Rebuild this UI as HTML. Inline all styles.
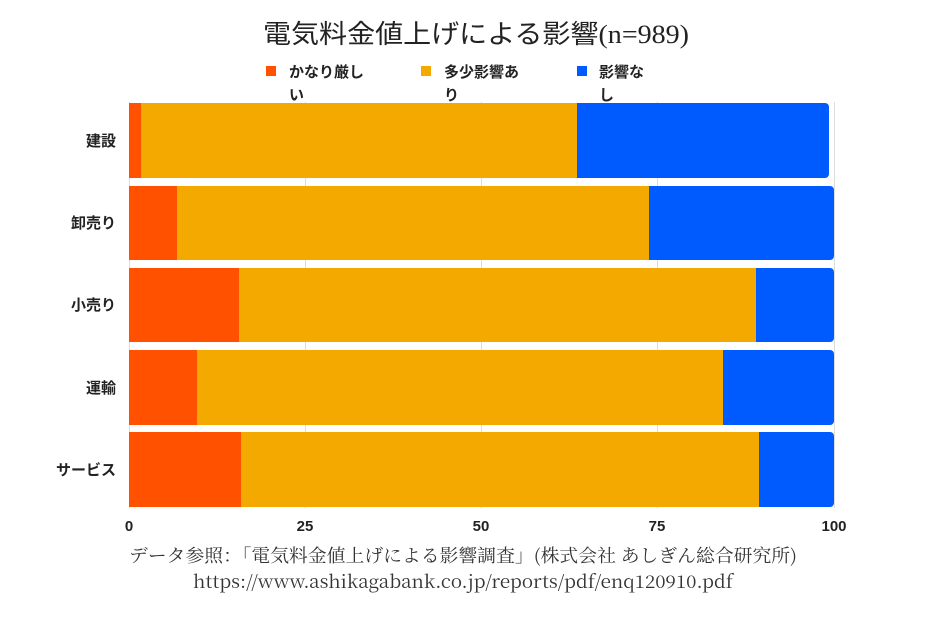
<!DOCTYPE html>
<html><head><meta charset="utf-8"><style>body{margin:0;background:#fff}svg{display:block}</style></head><body>
<svg width="925" height="617" xmlns="http://www.w3.org/2000/svg" font-family="Liberation Sans, Noto Sans CJK JP, sans-serif">
<rect width="925" height="617" fill="#fff"/>
<text x="263" y="43" textLength="426" lengthAdjust="spacingAndGlyphs" font-size="26" fill="#222" font-family="Liberation Serif, Noto Sans CJK JP, serif">電気料金値上げによる影響(n=989)</text>
<g font-size="15" font-weight="bold" fill="#222">
<rect x="266" y="66" width="10" height="10" fill="#FF5100"/><text x="289" y="77">かなり厳し</text><text x="289" y="100">い</text>
<rect x="421" y="66" width="10" height="10" fill="#F4A900"/><text x="444" y="77">多少影響あ</text><text x="444" y="100">り</text>
<rect x="577" y="66" width="10" height="10" fill="#005BFF"/><text x="599" y="77">影響な</text><text x="599" y="100">し</text>
</g>
<g stroke="#ddd" stroke-width="1">
<line x1="129.5" y1="102" x2="129.5" y2="508"/><line x1="305.5" y1="102" x2="305.5" y2="508"/><line x1="481.5" y1="102" x2="481.5" y2="508"/><line x1="657.5" y1="102" x2="657.5" y2="508"/><line x1="834.5" y1="102" x2="834.5" y2="508"/>
</g>
<g>
<path d="M129 103H825a4 4 0 0 1 4 4V174a4 4 0 0 1-4 4H129Z" fill="#005BFF"/><rect x="129" y="103" width="448" height="75" fill="#F4A900"/><rect x="129" y="103" width="12" height="75" fill="#FF5100"/>
<path d="M129 186H830a4 4 0 0 1 4 4V256a4 4 0 0 1-4 4H129Z" fill="#005BFF"/><rect x="129" y="186" width="520" height="74" fill="#F4A900"/><rect x="129" y="186" width="48" height="74" fill="#FF5100"/>
<path d="M129 268H830a4 4 0 0 1 4 4V338a4 4 0 0 1-4 4H129Z" fill="#005BFF"/><rect x="129" y="268" width="627" height="74" fill="#F4A900"/><rect x="129" y="268" width="110" height="74" fill="#FF5100"/>
<path d="M129 350H830a4 4 0 0 1 4 4V421a4 4 0 0 1-4 4H129Z" fill="#005BFF"/><rect x="129" y="350" width="594" height="75" fill="#F4A900"/><rect x="129" y="350" width="68" height="75" fill="#FF5100"/>
<path d="M129 432H830a4 4 0 0 1 4 4V503a4 4 0 0 1-4 4H129Z" fill="#005BFF"/><rect x="129" y="432" width="630" height="75" fill="#F4A900"/><rect x="129" y="432" width="112" height="75" fill="#FF5100"/>
</g>
<g font-size="15" font-weight="bold" fill="#222" text-anchor="end">
<text x="116" y="146">建設</text><text x="116" y="228">卸売り</text><text x="116" y="310">小売り</text><text x="116" y="393">運輸</text><text x="116" y="475">サービス</text>
</g>
<g font-size="15" font-weight="bold" fill="#222" text-anchor="middle">
<text x="129" y="531">0</text><text x="305" y="531">25</text><text x="481" y="531">50</text><text x="657" y="531">75</text><text x="834" y="531">100</text>
</g>
<g font-size="18" fill="#333" font-family="Noto Serif CJK SC, Liberation Serif, serif">
<text x="129" y="562" textLength="668" lengthAdjust="spacingAndGlyphs">データ参照：「電気料金値上げによる影響調査」(株式会社 あしぎん総合研究所)</text>
<text x="193" y="588" textLength="540" lengthAdjust="spacingAndGlyphs">https://www.ashikagabank.co.jp/reports/pdf/enq120910.pdf</text>
</g>
</svg>
</body></html>
